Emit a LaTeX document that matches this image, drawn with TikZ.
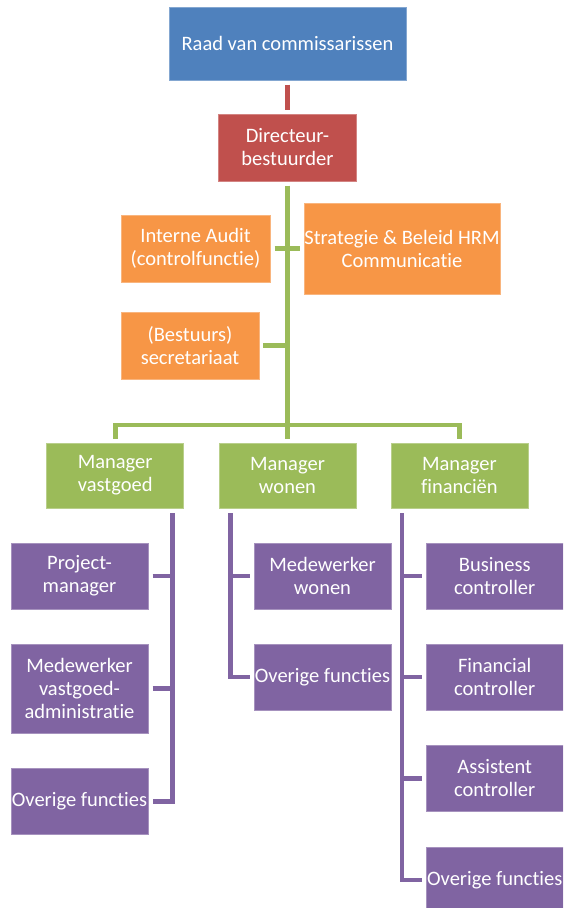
\documentclass[tikz,border=0pt]{standalone}
\usepackage{fontspec}
\setmainfont[Ligatures={NoCommon}]{Carlito}
\definecolor{cblue}{HTML}{4F81BD}
\definecolor{cred}{HTML}{C0504D}
\definecolor{corange}{HTML}{F79646}
\definecolor{cgreen}{HTML}{9BBB59}
\definecolor{cpurple}{HTML}{8064A2}
\tikzset{
  box/.style={rectangle, inner sep=0pt, outer sep=4.5pt, align=center, text=white,
    font=\fontsize{20.5}{23}\selectfont, minimum height=66pt, minimum width=137pt},
  bluebox/.style={box, fill=cblue, draw=cblue!70!white, line width=0.5pt},
  redbox/.style={box, fill=cred, draw=cred!70!white, line width=0.5pt},
  orangebox/.style={box, fill=corange, draw=corange!70!white, line width=0.5pt},
  greenbox/.style={box, fill=cgreen, draw=cgreen!70!white, line width=0.5pt},
  purplebox/.style={box, fill=cpurple, draw=cpurple!70!white, line width=0.5pt},
  conn/.style={line width=4.6pt},
  redline/.style={conn, draw=cred},
  greenline/.style={conn, draw=cgreen},
  purpleline/.style={conn, draw=cpurple},
}
\begin{document}
\begin{tikzpicture}[x=1pt, y=-1pt]
\clip (0,0) rectangle (563,908);
\fill[white] (0,0) rectangle (563,908);
% top
\node[bluebox, minimum width=237pt, minimum height=73pt] (raad) at (287.5,43.5) {Raad van commissarissen};
\node[redbox, minimum width=138pt, minimum height=67pt] (dir) at (287.5,147.5) {Directeur-\\bestuurder};
\node[orangebox, minimum width=149pt, minimum height=67pt] (audit) at (195.5,248.5) {Interne Audit\\(controlfunctie)};
\node[orangebox, minimum width=196pt, minimum height=91pt] (strat) at (402,248.5) {Strategie \& Beleid HRM\\Communicatie};
\node[orangebox, minimum width=137.5pt, minimum height=67pt] (sec) at (190,345.5) {(Bestuurs)\\secretariaat};
% managers
\node[greenbox, minimum height=65pt] (mvg) at (115.2,475.5) {Manager\\vastgoed};
\node[greenbox, minimum height=65pt] (mwo) at (287.5,475.5) {Manager\\wonen};
\node[greenbox, minimum height=65pt] (mfi) at (459.4,475.5) {Manager\\financiën};
% vastgoed staff
\node[purplebox] (pm) at (79.5,576) {Project-\\manager};
\node[purplebox, minimum height=89pt] (mva) at (79.5,688.5) {Medewerker\\vastgoed-\\administratie};
\node[purplebox] (vo) at (79.5,801.5) {Overige functies};
% wonen staff
\node[purplebox] (mw) at (322.5,576) {Medewerker\\wonen};
\node[purplebox] (wo) at (322.5,677) {Overige functies};
% financien staff
\node[purplebox, minimum width=136.5pt] (bc) at (494.75,576) {Business\\controller};
\node[purplebox, minimum width=136.5pt] (fc) at (494.75,677) {Financial\\controller};
\node[purplebox, minimum width=136.5pt] (ac) at (494.75,778.5) {Assistent\\controller};
\node[purplebox, minimum width=136.5pt] (fo) at (494.75,880) {Overige functies};
% connectors
\draw[redline] (raad) -- (dir);
\coordinate (bar) at (287.5,425);
\draw[greenline] (dir.south) -- (mwo.north);
\draw[greenline] (mvg.north) |- (bar) -| (mfi.north);
\draw[greenline] (audit.east) -- (strat.west);
\draw[greenline] (sec.east) -- (sec.east -| dir.south);
\coordinate (vgl) at (172.3,513);
\coordinate (wol) at (230.3,513);
\coordinate (fil) at (402,513);
\draw[purpleline] (vgl) |- (vo.east);
\draw[purpleline] (pm.east) -- (pm.east -| vgl);
\draw[purpleline] (mva.east) -- (mva.east -| vgl);
\draw[purpleline] (wol) |- (wo.west);
\draw[purpleline] (wol |- mw.west) -- (mw.west);
\draw[purpleline] (fil) |- (fo.west);
\draw[purpleline] (fil |- bc.west) -- (bc.west);
\draw[purpleline] (fil |- fc.west) -- (fc.west);
\draw[purpleline] (fil |- ac.west) -- (ac.west);
\end{tikzpicture}
\end{document}
